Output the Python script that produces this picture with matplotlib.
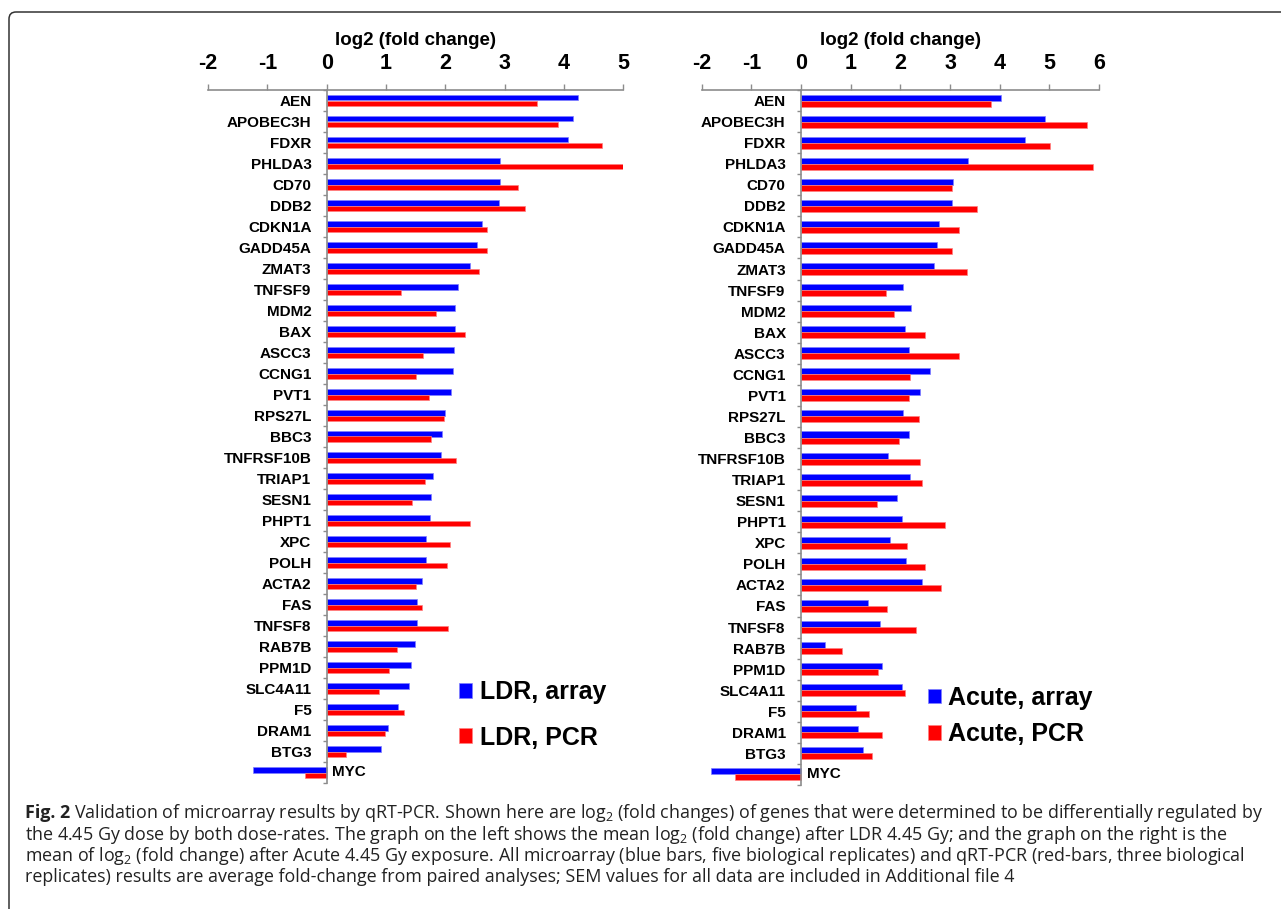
import numpy as np
import matplotlib
matplotlib.use("Agg")
import matplotlib.pyplot as plt
from matplotlib import font_manager
from matplotlib.patches import FancyBboxPatch
from matplotlib.transforms import IdentityTransform

genes = ["AEN", "APOBEC3H", "FDXR", "PHLDA3", "CD70", "DDB2", "CDKN1A", "GADD45A",
         "ZMAT3", "TNFSF9", "MDM2", "BAX", "ASCC3", "CCNG1", "PVT1", "RPS27L", "BBC3",
         "TNFRSF10B", "TRIAP1", "SESN1", "PHPT1", "XPC", "POLH", "ACTA2", "FAS",
         "TNFSF8", "RAB7B", "PPM1D", "SLC4A11", "F5", "DRAM1", "BTG3", "MYC"]

ldr_array = [4.23, 4.15, 4.07, 2.92, 2.92, 2.91, 2.62, 2.54, 2.42, 2.21, 2.16, 2.16,
             2.15, 2.13, 2.09, 2.00, 1.94, 1.93, 1.80, 1.75, 1.74, 1.67, 1.67, 1.61,
             1.52, 1.52, 1.48, 1.42, 1.39, 1.20, 1.03, 0.91, -1.24]
ldr_pcr = [3.54, 3.90, 4.64, 4.99, 3.23, 3.34, 2.71, 2.70, 2.56, 1.25, 1.84, 2.33,
           1.63, 1.51, 1.72, 1.97, 1.76, 2.18, 1.65, 1.44, 2.42, 2.08, 2.03, 1.50,
           1.60, 2.04, 1.19, 1.05, 0.88, 1.31, 0.98, 0.33, -0.37]
acute_array = [4.03, 4.91, 4.52, 3.36, 3.07, 3.03, 2.78, 2.73, 2.67, 2.05, 2.21, 2.09,
               2.18, 2.60, 2.40, 2.06, 2.17, 1.75, 2.19, 1.93, 2.04, 1.79, 2.11, 2.44,
               1.34, 1.60, 0.48, 1.64, 2.04, 1.11, 1.15, 1.25, -1.81]
acute_pcr = [3.82, 5.75, 5.01, 5.88, 3.05, 3.55, 3.18, 3.05, 3.34, 1.72, 1.88, 2.49,
             3.18, 2.20, 2.17, 2.38, 1.97, 2.40, 2.43, 1.52, 2.90, 2.13, 2.50, 2.81,
             1.74, 2.32, 0.83, 1.55, 2.10, 1.37, 1.63, 1.42, -1.32]

caption_lines = [
    "Validation of microarray results by qRT-PCR. Shown here are log$_\\mathregular{2}$ (fold changes) of genes that were determined to be differentially regulated by",
    "the 4.45 Gy dose by both dose-rates. The graph on the left shows the mean log$_\\mathregular{2}$ (fold change) after LDR 4.45 Gy; and the graph on the right is the",
    "mean of log$_\\mathregular{2}$ (fold change) after Acute 4.45 Gy exposure. All microarray (blue bars, five biological replicates) and qRT-PCR (red-bars, three biological",
    "replicates) results are average fold-change from paired analyses; SEM values for all data are included in Additional file 4",
]

W, H = 1281, 909
plt.rcParams["font.family"] = ["Liberation Sans", "DejaVu Sans"]
plt.rcParams["axes.unicode_minus"] = False
fig = plt.figure(figsize=(W / 100, H / 100), dpi=100)

GRAY = "#8c8c8c"


def panel(rect, blue, red, xmin, xmax, names, anchor, spacing):
    ax = fig.add_axes(rect)
    n = len(genes)
    y = np.arange(n)
    h = 0.285
    b1 = ax.barh(y - h / 2, blue, height=h, color="#0000ff", edgecolor="#8080ff", linewidth=0.5)
    b2 = ax.barh(y + h / 2, red, height=h, color="#ff0000", edgecolor="#ff8080", linewidth=0.5)
    ax.set_xlim(xmin, xmax)
    ax.set_ylim(n - 0.5, -0.5)

    for s in ["right", "bottom"]:
        ax.spines[s].set_visible(False)
    for s in ["top", "left"]:
        ax.spines[s].set_color(GRAY)
        ax.spines[s].set_linewidth(1.2)
    ax.spines["left"].set_position(("data", 0))

    ax.xaxis.tick_top()
    ax.xaxis.set_label_position("top")
    ax.set_xticks(np.arange(xmin, xmax + 1))
    ax.tick_params(axis="x", direction="out", length=4.5, width=1, color=GRAY,
                   labelsize=15.5, pad=7)
    for t in ax.get_xticklabels():
        t.set_fontweight("bold")
    ax.set_xlabel("log2 (fold change)", fontsize=13.5, fontweight="bold", labelpad=6)

    ax.set_yticks(y)
    ax.set_yticklabels([g if v >= 0 else "" for g, v in zip(genes, blue)],
                       fontsize=11, fontweight="bold")
    ax.set_yticks(np.arange(n + 1) - 0.5, minor=True)
    ax.tick_params(axis="y", which="major", length=0, pad=11)
    ax.tick_params(axis="y", which="minor", direction="out", length=3, width=1, color=GRAY)

    for i, (g, v) in enumerate(zip(genes, blue)):
        if v < 0:
            ax.annotate(g, (0, i), xytext=(4, 0), textcoords="offset points",
                        ha="left", va="center", fontsize=11, fontweight="bold")

    ax.legend([b1, b2], names, loc="center left", bbox_to_anchor=anchor,
              bbox_transform=fig.transFigure, frameon=False, borderpad=0,
              borderaxespad=0, handlelength=0.52, handleheight=0.52,
              handletextpad=0.3, labelspacing=spacing,
              prop={"weight": "bold", "size": 18})
    return ax


panel([208.1 / W, 1 - 783 / H, 415.2 / W, 693 / H], ldr_array, ldr_pcr, -2, 5,
      ["LDR, array", "LDR, PCR"], (459 / W, 1 - 715 / H), 0.85)
panel([701.7 / W, 1 - 785 / H, 397.3 / W, 695 / H], acute_array, acute_pcr, -2, 6,
      ["Acute, array", "Acute, PCR"], (928 / W, 1 - 716 / H), 0.5)

# frame around the figure (only top and left edges show)
frame = FancyBboxPatch((9, -40), 1320, H - 12 + 40, boxstyle="round,pad=0,rounding_size=7",
                       transform=IdentityTransform(), facecolor="none",
                       edgecolor="#333333", linewidth=1.1)
fig.add_artist(frame)

# caption
cap_font = "DejaVu Sans"
for cand in ["Liberation Sans Narrow", "Open Sans", "Noto Sans"]:
    try:
        font_manager.findfont(font_manager.FontProperties(family=cand), fallback_to_default=False)
        cap_font = cand
        break
    except Exception:
        pass

x0, x1 = 25, 1262
ys = [813, 834.5, 856, 877]
fs = 11
r = fig.canvas.get_renderer()
texts = []
bold = fig.text(x0 / W, 1 - ys[0] / H, "Fig. 2", fontweight="bold", family=cap_font,
                fontsize=fs, va="center", color="#222222")
for i, line in enumerate(caption_lines):
    t = fig.text(x0 / W, 1 - ys[i] / H, line, family=cap_font, fontsize=fs,
                 va="center", color="#222222")
    texts.append(t)

for _ in range(3):
    bold.set_fontsize(fs)
    for t in texts:
        t.set_fontsize(fs)
    bw = bold.get_window_extent(r).width
    texts[0].set_x((x0 + bw + fs * 0.3) / W)
    total = texts[0].get_window_extent(r).x1 - x0
    fs = fs * (x1 - x0) / total

fig.savefig("out.png", dpi=100)
